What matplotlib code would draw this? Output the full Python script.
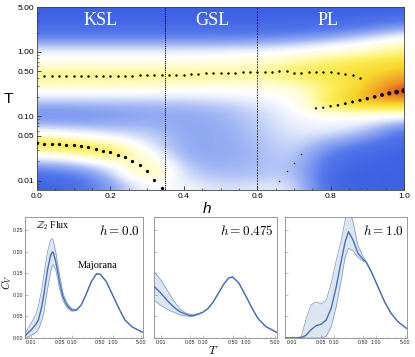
import numpy as np
import matplotlib
matplotlib.use("Agg")
import matplotlib.pyplot as plt
from matplotlib.colors import LinearSegmentedColormap
from matplotlib.ticker import FixedLocator, NullFormatter, LogLocator, MultipleLocator

plt.rcParams['mathtext.fontset'] = 'cm'

# ---------------- top panel: heat-map values ----------------
field_h = [0.0, 0.1, 0.2, 0.3, 0.4, 0.5, 0.6, 0.7, 0.8, 0.9, 1.0]
field_logT = [0.7, 0.6, 0.5, 0.4, 0.3, 0.2, 0.1, 0.0, -0.1, -0.2, -0.3, -0.4, -0.5, -0.6, -0.7,
              -0.8, -0.9, -1.0, -1.1, -1.2, -1.3, -1.4, -1.5, -1.6, -1.7, -1.8, -1.9, -2.0, -2.1]
field = [
    [0.02, 0.02, 0.02, 0.02, 0.02, 0.02, 0.02, 0.02, 0.02, 0.02, 0.03],
    [0.03, 0.03, 0.03, 0.03, 0.03, 0.03, 0.03, 0.03, 0.04, 0.05, 0.07],
    [0.05, 0.05, 0.05, 0.05, 0.05, 0.05, 0.05, 0.06, 0.07, 0.09, 0.14],
    [0.08, 0.08, 0.08, 0.08, 0.08, 0.08, 0.08, 0.09, 0.11, 0.16, 0.25],
    [0.14, 0.14, 0.14, 0.14, 0.14, 0.14, 0.14, 0.16, 0.20, 0.28, 0.38],
    [0.22, 0.22, 0.22, 0.22, 0.22, 0.22, 0.23, 0.26, 0.32, 0.40, 0.50],
    [0.33, 0.33, 0.33, 0.33, 0.33, 0.33, 0.34, 0.38, 0.44, 0.50, 0.60],
    [0.42, 0.42, 0.42, 0.42, 0.42, 0.43, 0.45, 0.48, 0.52, 0.57, 0.66],
    [0.48, 0.48, 0.48, 0.48, 0.48, 0.49, 0.51, 0.56, 0.62, 0.67, 0.72],
    [0.54, 0.54, 0.54, 0.54, 0.54, 0.55, 0.57, 0.62, 0.68, 0.72, 0.78],
    [0.60, 0.60, 0.60, 0.60, 0.60, 0.60, 0.60, 0.66, 0.71, 0.75, 0.83],
    [0.62, 0.62, 0.62, 0.62, 0.61, 0.60, 0.59, 0.64, 0.70, 0.78, 0.88],
    [0.57, 0.57, 0.57, 0.56, 0.55, 0.54, 0.54, 0.58, 0.68, 0.80, 0.94],
    [0.49, 0.49, 0.49, 0.48, 0.47, 0.47, 0.48, 0.52, 0.68, 0.82, 1.00],
    [0.41, 0.41, 0.41, 0.41, 0.41, 0.42, 0.45, 0.48, 0.70, 0.85, 0.93],
    [0.32, 0.32, 0.33, 0.33, 0.34, 0.36, 0.41, 0.46, 0.72, 0.80, 0.80],
    [0.25, 0.25, 0.27, 0.29, 0.30, 0.32, 0.38, 0.45, 0.62, 0.64, 0.64],
    [0.23, 0.23, 0.25, 0.28, 0.28, 0.30, 0.36, 0.44, 0.50, 0.50, 0.46],
    [0.29, 0.28, 0.28, 0.30, 0.27, 0.29, 0.35, 0.43, 0.45, 0.42, 0.30],
    [0.41, 0.38, 0.34, 0.33, 0.27, 0.28, 0.34, 0.42, 0.42, 0.35, 0.17],
    [0.55, 0.50, 0.43, 0.37, 0.27, 0.28, 0.33, 0.41, 0.36, 0.27, 0.09],
    [0.72, 0.66, 0.55, 0.40, 0.27, 0.28, 0.32, 0.40, 0.28, 0.18, 0.05],
    [0.63, 0.70, 0.70, 0.44, 0.27, 0.28, 0.31, 0.39, 0.20, 0.11, 0.04],
    [0.48, 0.54, 0.70, 0.52, 0.28, 0.28, 0.31, 0.38, 0.14, 0.07, 0.03],
    [0.35, 0.40, 0.54, 0.60, 0.30, 0.29, 0.31, 0.37, 0.10, 0.05, 0.03],
    [0.22, 0.27, 0.40, 0.68, 0.33, 0.30, 0.32, 0.36, 0.07, 0.04, 0.02],
    [0.12, 0.17, 0.33, 0.66, 0.36, 0.32, 0.33, 0.37, 0.05, 0.03, 0.02],
    [0.06, 0.10, 0.28, 0.55, 0.40, 0.35, 0.36, 0.39, 0.04, 0.03, 0.02],
    [0.03, 0.07, 0.25, 0.48, 0.44, 0.38, 0.40, 0.42, 0.04, 0.03, 0.02],
]

# peak positions (dots)
upper_h = [0.02, 0.04, 0.06, 0.08, 0.10, 0.12, 0.14, 0.16, 0.18, 0.20, 0.22, 0.24, 0.26, 0.28, 0.30,
           0.32, 0.34, 0.36, 0.38, 0.40, 0.42, 0.44, 0.46, 0.48, 0.50, 0.52, 0.54, 0.56, 0.58, 0.60,
           0.62, 0.64, 0.66, 0.68, 0.70, 0.72, 0.74, 0.76, 0.78, 0.80, 0.82, 0.84, 0.86, 0.88]
upper_T = [0.416, 0.416, 0.416, 0.416, 0.421, 0.421, 0.426, 0.426, 0.426, 0.426, 0.426, 0.426, 0.426,
           0.431, 0.431, 0.436, 0.441, 0.441, 0.441, 0.446, 0.451, 0.462, 0.467, 0.467, 0.469, 0.469,
           0.474, 0.480, 0.480, 0.490, 0.485, 0.485, 0.497, 0.497, 0.474, 0.474, 0.480, 0.480, 0.485,
           0.480, 0.474, 0.458, 0.442, 0.397]
ksl_h = [0.00, 0.02, 0.04, 0.06, 0.08, 0.10, 0.12, 0.14, 0.16, 0.18, 0.20, 0.22, 0.24, 0.26, 0.28,
         0.30, 0.32, 0.34]
ksl_T = [0.038, 0.0376, 0.0376, 0.0367, 0.0363, 0.0354, 0.0342, 0.033, 0.0307, 0.0293, 0.0276,
         0.0254, 0.0231, 0.020, 0.0172, 0.0142, 0.0102, 0.0076]
pl_h = [0.76, 0.78, 0.80, 0.82, 0.84, 0.86, 0.88, 0.90, 0.92, 0.94, 0.96, 0.98, 1.00]
pl_T = [0.133, 0.136, 0.143, 0.148, 0.157, 0.167, 0.177, 0.188, 0.201, 0.214, 0.227, 0.238, 0.25]
pl_size = [2.5, 2.5, 3, 3.5, 4, 4.5, 5, 6, 7, 8, 9, 11, 13]
low_h = [0.66, 0.68, 0.70, 0.72]
low_T = [0.0097, 0.014, 0.019, 0.0257]

phase_lines = [0.35, 0.6]
phase_names = ["KSL", "GSL", "PL"]
phase_pos = [0.174, 0.477, 0.794]

# ---------------- bottom panels: specific heat curves ----------------
T0 = [0.007, 0.01, 0.013, 0.015, 0.018, 0.02, 0.025, 0.03, 0.033, 0.035, 0.04, 0.045, 0.05, 0.06,
      0.07, 0.08, 0.1, 0.13, 0.17, 0.22, 0.3, 0.4, 0.5, 0.7, 1.0, 1.5, 2.0, 3.0, 5.5]
cv0 = [0.005, 0.019, 0.032, 0.042, 0.072, 0.096, 0.158, 0.193, 0.200, 0.198, 0.177, 0.152, 0.128,
       0.096, 0.082, 0.073, 0.065, 0.065, 0.077, 0.100, 0.131, 0.149, 0.148, 0.131, 0.100, 0.065,
       0.042, 0.026, 0.013]
lo0 = [0.000, 0.006, 0.013, 0.020, 0.040, 0.055, 0.112, 0.155, 0.168, 0.170, 0.158, 0.136, 0.113,
       0.087, 0.075, 0.068, 0.062, 0.064, 0.077, 0.100, 0.131, 0.149, 0.148, 0.131, 0.100, 0.065,
       0.042, 0.026, 0.013]
hi0 = [0.010, 0.035, 0.055, 0.075, 0.112, 0.140, 0.200, 0.228, 0.231, 0.226, 0.200, 0.170, 0.145,
       0.105, 0.088, 0.078, 0.068, 0.066, 0.077, 0.100, 0.131, 0.149, 0.148, 0.131, 0.100, 0.065,
       0.042, 0.026, 0.013]

T1 = [0.007, 0.01, 0.015, 0.02, 0.025, 0.03, 0.04, 0.05, 0.06, 0.08, 0.1, 0.13, 0.17, 0.22, 0.3,
      0.4, 0.5, 0.7, 1.0, 1.5, 2.0, 3.0, 5.5]
cv1 = [0.120, 0.105, 0.085, 0.073, 0.065, 0.060, 0.055, 0.052, 0.052, 0.056, 0.060, 0.068, 0.082,
       0.100, 0.123, 0.139, 0.142, 0.128, 0.100, 0.066, 0.045, 0.027, 0.013]
lo1 = [0.088, 0.076, 0.066, 0.060, 0.056, 0.053, 0.051, 0.050, 0.051, 0.055, 0.060, 0.068, 0.082,
       0.100, 0.123, 0.139, 0.142, 0.128, 0.100, 0.066, 0.045, 0.027, 0.013]
hi1 = [0.155, 0.136, 0.108, 0.088, 0.075, 0.066, 0.058, 0.055, 0.054, 0.057, 0.060, 0.068, 0.082,
       0.100, 0.123, 0.139, 0.142, 0.128, 0.100, 0.066, 0.045, 0.027, 0.013]

T2 = [0.007, 0.012, 0.017, 0.022, 0.029, 0.039, 0.051, 0.067, 0.088, 0.116, 0.153, 0.19, 0.227,
      0.29, 0.38, 0.5, 0.6, 0.79, 1.14, 1.64, 2.36, 3.4, 5.5]
cv2 = [0.000, 0.000, 0.001, 0.006, 0.019, 0.029, 0.032, 0.042, 0.069, 0.119, 0.180, 0.224, 0.247,
       0.228, 0.197, 0.183, 0.176, 0.154, 0.119, 0.084, 0.057, 0.038, 0.022]
lo2 = [0.000, 0.000, 0.000, 0.000, 0.000, 0.000, 0.000, 0.004, 0.026, 0.073, 0.135, 0.189, 0.208,
       0.203, 0.187, 0.179, 0.176, 0.154, 0.119, 0.084, 0.057, 0.038, 0.022]
hi2 = [0.000, 0.001, 0.003, 0.042, 0.077, 0.084, 0.079, 0.088, 0.127, 0.180, 0.228, 0.275, 0.300,
       0.270, 0.215, 0.190, 0.178, 0.154, 0.119, 0.084, 0.057, 0.038, 0.022]

panel_titles = [r"$h=0.0$", r"$h=0.475$", r"$h=1.0$"]

# ---------------- drawing ----------------
W, H = 415, 357
fig = plt.figure(figsize=(W / 100, H / 100), dpi=100)

def rect(x0, y0, x1, y1):
    return [x0 / W, 1 - y1 / H, (x1 - x0) / W, (y1 - y0) / H]

cmap = LinearSegmentedColormap.from_list("heat", [
    (0.00, "#3a5de3"), (0.15, "#5679ec"), (0.30, "#9cb2f3"), (0.41, "#e6ecfc"),
    (0.47, "#ffffff"), (0.57, "#fffcc4"), (0.68, "#fcee5a"), (0.78, "#f8d62c"),
    (0.89, "#ee9222"), (1.00, "#d4281c")])

top_rect = rect(37, 7, 404, 190)
ymin, ymax = 0.00715, 5.0
ax_bg = fig.add_axes(top_rect)
dh = field_h[1] - field_h[0]
dl = field_logT[0] - field_logT[1]
ax_bg.imshow(np.array(field), cmap=cmap, vmin=0, vmax=1, aspect='auto', interpolation='bicubic',
             extent=[field_h[0] - dh / 2, field_h[-1] + dh / 2,
                     field_logT[-1] - dl / 2, field_logT[0] + dl / 2])
ax_bg.set_xlim(0, 1)
ax_bg.set_ylim(np.log10(ymin), np.log10(ymax))
ax_bg.axis('off')

ax = fig.add_axes(top_rect)
ax.set_facecolor('none')
ax.set_yscale('log')
ax.set_xlim(0, 1)
ax.set_ylim(ymin, ymax)
ax.scatter(upper_h, upper_T, s=3, color='black', zorder=3, linewidths=0)
ax.scatter(ksl_h, ksl_T, s=5.5, color='black', zorder=3, linewidths=0)
ax.scatter(pl_h, pl_T, s=pl_size, color='black', zorder=3, linewidths=0)
ax.scatter(low_h, low_T, s=1.2, color='black', zorder=3, linewidths=0)
ax.axvline(phase_lines[0], color='black', lw=0.7, ls=(0, (1.2, 1.0)), zorder=2)
ax.axvline(phase_lines[1], color='black', lw=0.5, ls=(0, (2.5, 1.5)), zorder=2)
for name, hp in zip(phase_names, phase_pos):
    ax.text(hp, 3.05, name, color='white', fontsize=13, family='Liberation Serif',
            ha='center', va='center')

ax.xaxis.set_major_locator(FixedLocator([0.0, 0.2, 0.4, 0.6, 0.8, 1.0]))
ax.xaxis.set_minor_locator(MultipleLocator(0.05))
ax.set_xticklabels(["0.0", "0.2", "0.4", "0.6", "0.8", "1.0"])
yt = [0.01, 0.05, 0.1, 0.5, 1.0, 5.0]
ax.yaxis.set_major_locator(FixedLocator(yt))
ax.yaxis.set_minor_locator(LogLocator(base=10, subs=np.arange(2, 10)))
ax.yaxis.set_minor_formatter(NullFormatter())
ax.set_yticklabels(["%.2f" % v for v in yt])
ax.tick_params(which='both', direction='in', labelsize=6, pad=2, colors='#333333',
               labelcolor='black')
ax.tick_params(which='major', length=3, width=0.6)
ax.tick_params(which='minor', length=1.6, width=0.5)
for lab in ax.get_xticklabels() + ax.get_yticklabels():
    lab.set_family('Liberation Sans')
for sp in ax.spines.values():
    sp.set_color('#444444')
    sp.set_linewidth(0.6)

fig.text(8 / W, 1 - 99 / H, "T", fontsize=11, family='Liberation Sans', ha='center', va='center')
fig.text(207 / W, 1 - 209 / H, "h", fontsize=11, family='Liberation Sans', style='italic',
         ha='center', va='center')

# bottom panels
bottom_rects = [rect(25, 217, 143, 338), rect(154, 217, 277, 338), rect(285, 217, 407, 338)]
series = [(T0, cv0, lo0, hi0), (T1, cv1, lo1, hi1), (T2, cv2, lo2, hi2)]
line_col = '#4a70b4'
band_col = '#dde5f1'
for i, (r, (T, cv, lo, hi)) in enumerate(zip(bottom_rects, series)):
    b = fig.add_axes(r)
    b.set_xscale('log')
    b.set_xlim(0.007, 5.6)
    b.set_ylim(0, 0.281)
    b.fill_between(T, lo, hi, color=band_col, lw=0, zorder=1)
    b.plot(T, lo, color='#7593c8', lw=0.5, zorder=2)
    b.plot(T, hi, color='#7593c8', lw=0.5, zorder=2)
    b.plot(T, cv, color=line_col, lw=1.0, zorder=3)
    xt = [0.01, 0.05, 0.1, 0.5, 1.0, 5.0]
    b.xaxis.set_major_locator(FixedLocator(xt))
    b.set_xticklabels(["%.2f" % v for v in xt])
    b.xaxis.set_minor_locator(LogLocator(base=10, subs=np.arange(2, 10)))
    b.xaxis.set_minor_formatter(NullFormatter())
    b.yaxis.set_major_locator(MultipleLocator(0.05))
    b.yaxis.set_minor_locator(MultipleLocator(0.01))
    if i == 0:
        b.set_yticklabels(["%.2f" % v for v in b.get_yticks()])
    else:
        b.yaxis.set_major_formatter(NullFormatter())
    b.tick_params(which='both', direction='in', labelsize=3.8, pad=1.5, colors='#888888',
                  labelcolor='#222222')
    b.tick_params(which='major', length=2, width=0.4)
    b.tick_params(which='minor', length=1, width=0.3)
    for lab in b.get_xticklabels() + b.get_yticklabels():
        lab.set_family('Liberation Sans')
    for sp in b.spines.values():
        sp.set_color('#999999')
        sp.set_linewidth(0.7)
    b.text(0.97, 0.885, panel_titles[i], transform=b.transAxes, fontsize=9.5,
           ha='right', va='center')
    if i == 0:
        b.text(0.033, 0.262, r"$\mathbb{Z}_2$ Flux", fontsize=7, family='Liberation Serif',
               ha='center', va='center')
        b.text(0.42, 0.168, "Majorana", fontsize=7.5, family='Liberation Serif',
               ha='center', va='center')

fig.text(7 / W, 1 - 282 / H, r"$C_V$", fontsize=8, rotation=90, ha='center', va='center')
fig.text(213 / W, 1 - 350 / H, r"$T$", fontsize=8.5, ha='center', va='center')

fig.savefig("out.png", dpi=100)
